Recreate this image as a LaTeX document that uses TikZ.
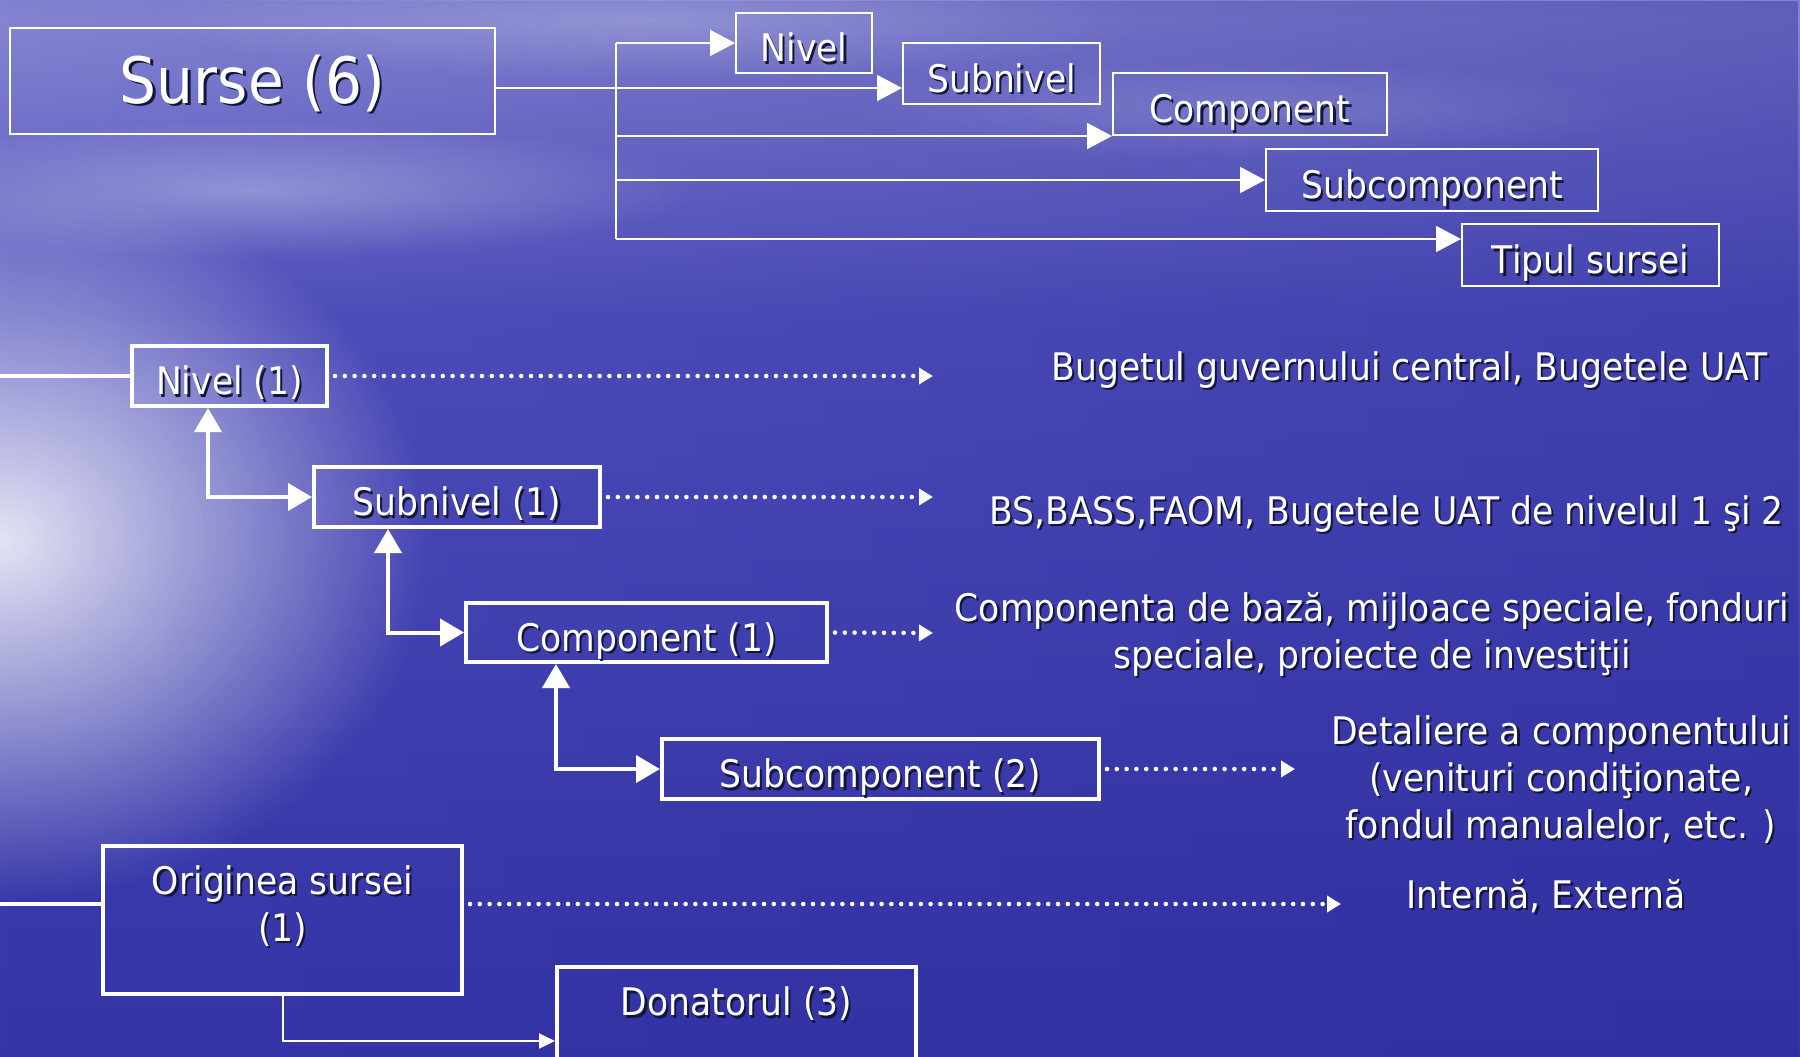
\documentclass[tikz,border=0pt]{standalone}
\usepackage{fontspec}
\setmainfont[FakeStretch=0.91]{DejaVu Sans}
\usetikzlibrary{arrows.meta,fadings}

\definecolor{skytop}{RGB}{96,96,196}
\definecolor{skymid}{RGB}{88,88,192}
\definecolor{skylow}{RGB}{112,112,204}
\definecolor{horizon}{RGB}{132,132,210}
\definecolor{seaup}{RGB}{80,80,188}
\definecolor{seamid}{RGB}{58,58,172}
\definecolor{seadeep}{RGB}{40,40,152}
\definecolor{shadowc}{RGB}{20,20,60}

\pgfdeclareverticalshading{skysea}{100bp}{color(0bp)=(seadeep); color(34bp)=(seamid); color(60bp)=(seaup); color(74bp)=(horizon); color(81bp)=(skylow); color(92bp)=(skymid); color(100bp)=(skytop)}

\tikzfading[name=glow, inner color=transparent!0, outer color=transparent!100]
\tikzfading[name=darkright, left color=transparent!100, right color=transparent!0]

\newcommand\shadowed[1]{\leavevmode\rlap{\kern1.1pt\raisebox{-1.1pt}{\color{shadowc}#1}}#1}

\tikzset{
  lbl/.style={text=white, font=\fontsize{19}{23.5}\selectfont},
  topbox/.style={draw=white, line width=1pt, lbl, inner sep=0pt, text height=20pt, text depth=1.2pt},
  lowbox/.style={draw=white, line width=2pt, lbl, inner sep=0pt, text height=20pt, text depth=1.2pt},
  info/.style={lbl, align=center, anchor=base, inner sep=0pt},
  topline/.style={white, line width=1pt},
  toparrow/.style={topline, -{Triangle[length=12.5pt,width=13pt]}},
  lowline/.style={white, line width=2pt},
  lowarrows/.style={lowline, {Triangle[length=12pt,width=13.5pt]}-{Triangle[length=12pt,width=13.5pt]}},
  dotarrow/.style={white, line width=2.3pt, line cap=round, dash pattern=on 0pt off 4.9pt, -{Triangle[length=7pt,width=8pt]}, shorten <=3pt},
  thinarrow/.style={topline, -{Triangle[length=8pt,width=7.5pt]}},
}

\begin{document}
\begin{tikzpicture}[x=0.5pt, y=-0.5pt]
    \useasboundingbox (0,0) rectangle (1800,1056);

    % background
    \shade[shading=skysea] (0,0) rectangle (1800,1056);
    \fill[seadeep, opacity=0.4, path fading=darkright] (0,0) rectangle (1800,1056);
    \fill[white, opacity=0.2, path fading=glow] (650,20) ellipse [x radius=500, y radius=60];
    \fill[white, opacity=0.3, path fading=glow] (250,190) ellipse [x radius=450, y radius=70];
    \fill[white, opacity=0.15, path fading=glow] (1250,110) ellipse [x radius=400, y radius=50];
    \fill[white, opacity=0.85, path fading=glow] (0,540) ellipse [x radius=430, y radius=360];

    % sources and their parts
    \node[topbox, minimum width=242.5pt, minimum height=53pt, font=\fontsize{32}{38}\selectfont, text height=24pt, text depth=1.6pt] (surse) at (252.5,81) {\shadowed{Surse (6)}};
    \node[topbox, minimum width=68pt, minimum height=30pt] (nivel0) at (804,43) {\shadowed{Nivel}};
    \node[topbox, minimum width=98.5pt, minimum height=30.5pt] (subnivel0) at (1001.5,73.5) {\shadowed{Subnivel}};
    \node[topbox, minimum width=137pt, minimum height=31pt] (component0) at (1250,104) {\shadowed{Component}};
    \node[topbox, minimum width=166pt, minimum height=31pt] (subcomponent0) at (1432,180) {\shadowed{Subcomponent}};
    \node[topbox, minimum width=128.5pt, minimum height=31pt] (tipul0) at (1590.5,255) {\shadowed{Tipul sursei}};

    \coordinate (hub) at (616,88);
    \coordinate (trunkend) at (616,239);
    \draw[topline] (surse.east |- hub) -- (hub);
    \draw[topline] (hub |- nivel0) -- (trunkend);
    \draw[toparrow] (hub |- nivel0) -- (nivel0.west);
    \draw[toparrow] (hub) -- (hub -| subnivel0.west);
    \draw[toparrow] (hub |- component0.south) -- (component0.south west);
    \draw[toparrow] (hub |- subcomponent0) -- (subcomponent0.west);
    \draw[toparrow] (trunkend) -- (trunkend -| tipul0.west);

    % the levels
    \node[lowbox, minimum width=97.5pt, minimum height=30pt] (nivel1) at (229.5,376) {\shadowed{Nivel (1)}};
    \node[lowbox, minimum width=143pt, minimum height=30pt] (subnivel1) at (457,497) {\shadowed{Subnivel (1)}};
    \node[lowbox, minimum width=180.5pt, minimum height=29.5pt] (component1) at (646.5,632.5) {\shadowed{Component (1)}};
    \node[lowbox, minimum width=218.5pt, minimum height=30pt] (subcomponent1) at (880.5,769) {\shadowed{Subcomponent (2)}};
    \node[lowbox, minimum width=179.5pt, minimum height=74pt, align=center, text height=26pt, text depth=5pt] (origine1) at (282.5,920) {\shadowed{Originea sursei}\\\shadowed{(1)}};
    \node[lowbox, minimum width=179.5pt, minimum height=46.5pt, text height=12pt, text depth=9.7pt] (donator1) at (736.5,1013.5) {\shadowed{Donatorul (3)}};

    \node[info] (info0) at (1409.5,380) {\shadowed{Bugetul guvernului central, Bugetele UAT}};
    \node[info] (info1) at (1386.5,524) {\shadowed{BS,BASS,FAOM, Bugetele UAT de nivelul 1 şi 2}};
    \node[info] (info2) at (1372,668) {\shadowed{Componenta de bază, mijloace speciale, fonduri}\\\shadowed{speciale, proiecte de investiţii}};
    \node[info] (info3) at (1561,838) {\shadowed{Detaliere a componentului}\\\shadowed{(venituri condiţionate,}\\\shadowed{fondul manualelor, etc. )}};
    \node[info] (info4) at (1546,908) {\shadowed{Internă, Externă}};

    \coordinate (edge0) at (0,376);
    \coordinate (edge1) at (0,904);
    \coordinate (dot0) at (933,376);
    \coordinate (dot1) at (933,497);
    \coordinate (dot2) at (933,633);
    \coordinate (dot3) at (1295,769);
    \coordinate (dot4) at (1341,904);
    \coordinate (bend) at (283,1041);

    \draw[lowline] (edge0) -- (nivel1.west);
    \draw[dotarrow] (nivel1.east) -- (dot0);
    \draw[dotarrow] (subnivel1.east) -- (dot1);
    \draw[dotarrow] (component1.east) -- (dot2);
    \draw[dotarrow] (subcomponent1.east) -- (dot3);
    \draw[lowline] (edge1) -- (edge1 -| origine1.west);
    \draw[dotarrow] (origine1.east |- edge1) -- (dot4);
    \draw[lowarrows] ([xshift=-10.75pt]nivel1.south) |- (subnivel1.west);
    \draw[lowarrows] ([xshift=-34.5pt]subnivel1.south) |- (component1.west);
    \draw[lowarrows] ([xshift=-45.25pt]component1.south) |- (subcomponent1.west);
    \draw[thinarrow] (origine1.south) |- (bend -| donator1.west);
\end{tikzpicture}
\end{document}
